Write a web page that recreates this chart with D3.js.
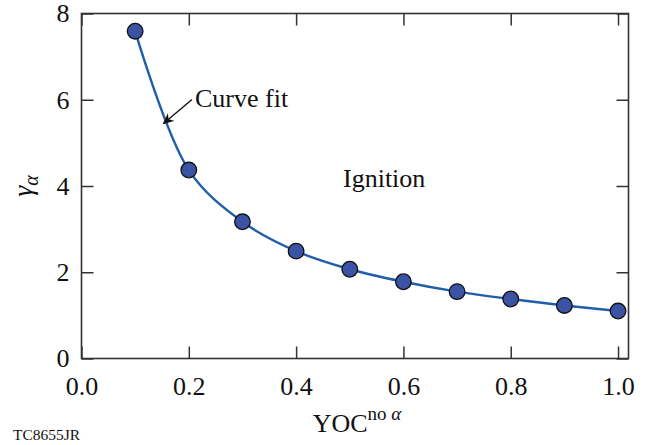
<!DOCTYPE html>
<html lang="en">
<head>
<meta charset="UTF-8">
<title>Ignition curve</title>
<script src="https://cdn.jsdelivr.net/npm/d3@7"></script>
<style>
  body { margin: 0; background: #fff; }
  text { font-family: "Liberation Serif", "Times New Roman", serif; fill: #111; }
</style>
</head>
<body>
<script>
// data
var yocValues = [0.1, 0.2, 0.3, 0.4, 0.5, 0.6, 0.7, 0.8, 0.9, 1.0];
var gammaValues = [7.59, 4.37, 3.17, 2.49, 2.07, 1.78, 1.55, 1.38, 1.23, 1.10];
var xTicks = [0.0, 0.2, 0.4, 0.6, 0.8, 1.0];
var yTicks = [0, 2, 4, 6, 8];

var W = 647, H = 445;
var margin = {top: 13.5, right: 18.5, bottom: 86.5, left: 81.5};
var width = W - margin.left - margin.right,
    height = H - margin.top - margin.bottom;

var svg = d3.select("body").append("svg")
    .attr("width", W)
    .attr("height", H);

var g = svg.append("g")
    .attr("transform", "translate(" + margin.left + "," + margin.top + ")");

// x runs a bit past 1.0 to the right frame
var x = d3.scaleLinear().domain([0, 1.0195]).range([0, width]);
var y = d3.scaleLinear().domain([0, 8]).range([height, 0]);

var tickLen = 12;

// inward ticks on all four sides
g.append("g")
    .attr("transform", "translate(0," + height + ")")
    .call(d3.axisBottom(x).tickValues(xTicks).tickSize(-tickLen).tickPadding(18)
        .tickFormat(d3.format(".1f")))
    .call(function(a) { a.select(".domain").remove(); });

g.append("g")
    .call(d3.axisTop(x).tickValues(xTicks).tickSize(-tickLen).tickFormat(""))
    .call(function(a) { a.select(".domain").remove(); });

g.append("g")
    .call(d3.axisLeft(y).tickValues(yTicks).tickSize(-tickLen).tickPadding(12))
    .call(function(a) { a.select(".domain").remove(); });

g.append("g")
    .attr("transform", "translate(" + width + ",0)")
    .call(d3.axisRight(y).tickValues(yTicks).tickSize(-tickLen).tickFormat(""))
    .call(function(a) { a.select(".domain").remove(); });

g.selectAll(".tick line").attr("stroke", "#333").attr("stroke-width", 1.5);
g.selectAll(".tick text").style("font-size", "26px").attr("fill", "#111");

// frame
g.append("rect")
    .attr("width", width)
    .attr("height", height)
    .attr("fill", "none")
    .attr("stroke", "#333")
    .attr("stroke-width", 1.6);

var pts = yocValues.map(function(d, i) { return [d, gammaValues[i]]; });

// fitted curve through the points
var line = d3.line()
    .x(function(d) { return x(d[0]); })
    .y(function(d) { return y(d[1]); })
    .curve(d3.curveCatmullRom.alpha(0.5));

g.append("path")
    .datum(pts)
    .attr("d", line)
    .attr("fill", "none")
    .attr("stroke", "#1f5fa8")
    .attr("stroke-width", 2.4);

g.selectAll(".pt")
    .data(pts)
    .enter().append("circle")
    .attr("class", "pt")
    .attr("cx", function(d) { return x(d[0]); })
    .attr("cy", function(d) { return y(d[1]); })
    .attr("r", 7.8)
    .attr("fill", "#3a53a4")
    .attr("stroke", "#111")
    .attr("stroke-width", 1.3);

// annotations
svg.append("defs").append("marker")
    .attr("id", "arrow")
    .attr("viewBox", "0 0 10 10")
    .attr("refX", 9).attr("refY", 5)
    .attr("markerWidth", 11).attr("markerHeight", 11)
    .attr("markerUnits", "userSpaceOnUse")
    .attr("orient", "auto")
    .append("path")
    .attr("d", "M0,0.5 L10,5 L0,9.5 L3,5 Z")
    .attr("fill", "#111");

svg.append("line")
    .attr("x1", 192).attr("y1", 99.5)
    .attr("x2", 163.5).attr("y2", 123.5)
    .attr("stroke", "#111")
    .attr("stroke-width", 1.3)
    .attr("marker-end", "url(#arrow)");

svg.append("text")
    .attr("x", 195).attr("y", 107)
    .style("font-size", "26px")
    .text("Curve fit");

svg.append("text")
    .attr("x", 343).attr("y", 187)
    .style("font-size", "26px")
    .text("Ignition");

// axis titles
var xt = svg.append("text")
    .attr("x", 357)
    .attr("y", 432)
    .attr("text-anchor", "middle")
    .style("font-size", "26px");
xt.append("tspan").text("YOC");
xt.append("tspan").attr("dy", -12).style("font-size", "19px").text("no ");
xt.append("tspan").style("font-size", "19px").style("font-style", "italic").text("α");

var yt = svg.append("text")
    .attr("transform", "translate(32,186) rotate(-90)")
    .attr("text-anchor", "middle")
    .style("font-size", "28px");
yt.append("tspan").style("font-style", "italic").text("γ");
yt.append("tspan").attr("dy", 6).style("font-size", "20px").style("font-style", "italic").text("α");

svg.append("text")
    .attr("x", 13).attr("y", 440)
    .style("font-size", "15.5px")
    .text("TC8655JR");
</script>
</body>
</html>
